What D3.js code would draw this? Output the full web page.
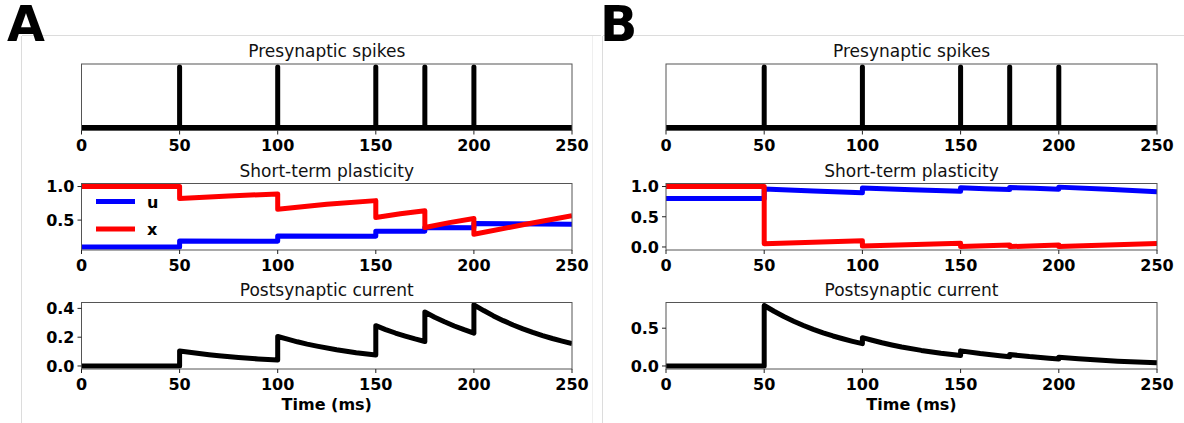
<!DOCTYPE html>
<html lang="en">
<head>
    <meta charset="UTF-8">
    <script src="https://cdn.jsdelivr.net/npm/d3@7"></script>
    <title>stp-figure</title>
    <style>
        body { margin: 0; background: #fff; }
        svg text { font-family: "DejaVu Sans", sans-serif; }
    </style>
</head>
<body>
    <svg id="stp-figure" width="1184" height="423"></svg>

    <script>
        // ---- data ----
        let spikeTimes = [50, 100, 150, 175, 200];
        let timeTicks = [0, 50, 100, 150, 200, 250];

        // panel A (facilitation)
        let uA = [[0, 0.10], [50, 0.10], [50, 0.19], [100, 0.185], [100, 0.265], [150, 0.26], [150, 0.335],
            [175, 0.333], [175, 0.39], [200, 0.385], [200, 0.45], [250, 0.44]];
        let xA = [[0, 1], [50, 1], [50, 0.82], [75, 0.86], [100, 0.89], [100, 0.66], [125, 0.735], [150, 0.79],
            [150, 0.54], [162.5, 0.594], [175, 0.638], [175, 0.39], [187.5, 0.462], [200, 0.525], [200, 0.29],
            [225, 0.43], [250, 0.565]];
        let currentA = [[0, 0], [50, 0], [50, 0.104], [55, 0.095], [60, 0.086], [65, 0.078], [70, 0.071], [80, 0.059],
            [90, 0.049], [100, 0.041], [100, 0.205], [105, 0.186], [110, 0.168], [115, 0.152], [120, 0.138],
            [130, 0.113], [140, 0.092], [150, 0.076], [150, 0.28], [155, 0.253], [160, 0.229], [165, 0.208],
            [170, 0.188], [175, 0.17], [175, 0.375], [180, 0.339], [185, 0.307], [190, 0.278], [195, 0.252],
            [200, 0.228], [200, 0.425], [205, 0.385], [210, 0.348], [215, 0.315], [220, 0.285], [225, 0.258],
            [230, 0.233], [235, 0.211], [240, 0.191], [245, 0.173], [250, 0.156]];

        // panel B (depression)
        let uB = [[0, 0.8], [50, 0.8], [50, 0.96], [75, 0.925], [100, 0.895], [100, 0.975], [125, 0.945], [150, 0.92],
            [150, 0.98], [162.5, 0.965], [175, 0.95], [175, 0.985], [187.5, 0.97], [200, 0.955], [200, 0.99],
            [225, 0.955], [250, 0.915]];
        let xB = [[0, 1], [50, 1], [50, 0.055], [100, 0.105], [100, 0.015], [150, 0.06], [150, 0.008], [175, 0.032],
            [175, 0.006], [200, 0.032], [200, 0.008], [250, 0.058]];
        let currentB = [[0, 0], [50, 0], [50, 0.8], [55, 0.724], [60, 0.655], [65, 0.593], [70, 0.536], [75, 0.485],
            [80, 0.439], [85, 0.397], [90, 0.36], [95, 0.326], [100, 0.295], [100, 0.375], [105, 0.34], [110, 0.307],
            [115, 0.278], [120, 0.251], [130, 0.206], [140, 0.169], [150, 0.138], [150, 0.2], [160, 0.164],
            [170, 0.134], [175, 0.121], [175, 0.152], [185, 0.124], [195, 0.102], [200, 0.092], [200, 0.117],
            [210, 0.096], [220, 0.078], [230, 0.064], [240, 0.053], [250, 0.043]];

        let stpTicksA = [0.5, 1.0];
        let currentTicksA = [0.0, 0.2, 0.4];
        let stpTicksB = [0.0, 0.5, 1.0];
        let currentTicksB = [0.0, 0.5];
        let legendLabels = ["u", "x"];
        let seriesColors = ["#0000ff", "#ff0000"];
    </script>

    <script>
        let svg = d3.select("#stp-figure");

        // light borders from the screenshot
        svg.append("line").attr("x1", 22).attr("x2", 601).attr("y1", 35.5).attr("y2", 35.5).attr("stroke", "#dcdcdc");
        svg.append("line").attr("x1", 603).attr("x2", 1184).attr("y1", 35.5).attr("y2", 35.5).attr("stroke", "#dcdcdc");
        svg.append("line").attr("x1", 21.5).attr("x2", 21.5).attr("y1", 36).attr("y2", 423).attr("stroke", "#dcdcdc");
        svg.append("line").attr("x1", 602.5).attr("x2", 602.5).attr("y1", 36).attr("y2", 423).attr("stroke", "#dcdcdc");
        svg.append("line").attr("x1", 592.5).attr("x2", 592.5).attr("y1", 36).attr("y2", 423).attr("stroke", "#efefef");

        let rowTops = [64, 183.5, 302.5];
        let axHeight = 66.5;
        let columns = [{ left: 81.5, right: 572, letter: "A", lx: 7 }, { left: 666, right: 1157, letter: "B", lx: 600 }];
        let clipCount = 0;

        function makeAxes(col, row, yDomain, yTicks, title) {
            let top = rowTops[row], bottom = top + axHeight;
            let x = d3.scaleLinear().domain([0, 250]).range([col.left, col.right]);
            let y = d3.scaleLinear().domain(yDomain).range([bottom, top]);
            let g = svg.append("g");

            let clipId = "clip" + (clipCount++);
            svg.append("clipPath").attr("id", clipId)
                .append("rect").attr("x", col.left).attr("y", top).attr("width", col.right - col.left).attr("height", axHeight);
            let plot = g.append("g").attr("clip-path", "url(#" + clipId + ")");

            g.append("rect")
                .attr("x", col.left).attr("y", top)
                .attr("width", col.right - col.left).attr("height", axHeight)
                .attr("fill", "none").attr("stroke", "#555").attr("stroke-width", 1);

            let xt = g.selectAll(".xt").data(timeTicks).enter().append("g");
            xt.append("line")
                .attr("x1", d => x(d)).attr("x2", d => x(d))
                .attr("y1", bottom).attr("y2", bottom + 4)
                .attr("stroke", "#222");
            xt.append("text")
                .attr("x", d => x(d)).attr("y", bottom + 20.5)
                .attr("text-anchor", "middle")
                .attr("font-size", 16).attr("font-weight", "bold")
                .text(d => d);

            let yt = g.selectAll(".yt").data(yTicks).enter().append("g");
            yt.append("line")
                .attr("x1", col.left - 4).attr("x2", col.left)
                .attr("y1", d => y(d)).attr("y2", d => y(d))
                .attr("stroke", "#222");
            yt.append("text")
                .attr("x", col.left - 7).attr("y", d => y(d) + 5.8)
                .attr("text-anchor", "end")
                .attr("font-size", 16).attr("font-weight", "bold")
                .text(d => d3.format(".1f")(d));

            g.append("text")
                .attr("x", (col.left + col.right) / 2).attr("y", top - 7)
                .attr("text-anchor", "middle")
                .attr("font-size", 17).attr("fill", "#111")
                .text(title);

            return { x: x, y: y, plot: plot };
        }

        function drawSeries(ax, data, color) {
            let line = d3.line().x(d => ax.x(d[0])).y(d => ax.y(d[1]));
            ax.plot.append("path")
                .datum(data)
                .attr("d", line)
                .attr("fill", "none")
                .attr("stroke", color)
                .attr("stroke-width", 5)
                .attr("stroke-linejoin", "round");
        }

        let spikeTrain = [[0, 0]];
        spikeTimes.forEach(t => { spikeTrain.push([t, 0], [t, 1], [t, 0]); });
        spikeTrain.push([250, 0]);

        let panels = [
            { stp: [uA, xA], current: currentA, stpDomain: [0.055, 1.045], stpTicks: stpTicksA, curDomain: [-0.021, 0.441], curTicks: currentTicksA, legend: true },
            { stp: [uB, xB], current: currentB, stpDomain: [-0.05, 1.05], stpTicks: stpTicksB, curDomain: [-0.04, 0.84], curTicks: currentTicksB, legend: false }
        ];

        panels.forEach((p, i) => {
            let col = columns[i];

            svg.append("text")
                .attr("x", col.lx).attr("y", 41)
                .attr("font-size", 49).attr("font-weight", "bold")
                .attr("fill", "#000")
                .text(col.letter);

            let spikesAx = makeAxes(col, 0, [-0.05, 1.05], [], "Presynaptic spikes");
            drawSeries(spikesAx, spikeTrain, "#000");

            let stpAx = makeAxes(col, 1, p.stpDomain, p.stpTicks, "Short-term plasticity");
            p.stp.forEach((s, k) => drawSeries(stpAx, s, seriesColors[k]));

            if (p.legend) {
                legendLabels.forEach((lab, k) => {
                    let ly = 201.5 + k * 27.5;
                    svg.append("line")
                        .attr("x1", 96).attr("x2", 135).attr("y1", ly).attr("y2", ly)
                        .attr("stroke", seriesColors[k]).attr("stroke-width", 5);
                    svg.append("text")
                        .attr("x", 147).attr("y", ly + 6)
                        .attr("font-size", 16).attr("font-weight", "bold")
                        .text(lab);
                });
            }

            let curAx = makeAxes(col, 2, p.curDomain, p.curTicks, "Postsynaptic current");
            drawSeries(curAx, p.current, "#000");

            svg.append("text")
                .attr("x", (col.left + col.right) / 2).attr("y", 410)
                .attr("text-anchor", "middle")
                .attr("font-size", 16).attr("font-weight", "bold")
                .text("Time (ms)");
        });
    </script>
</body>
</html>
